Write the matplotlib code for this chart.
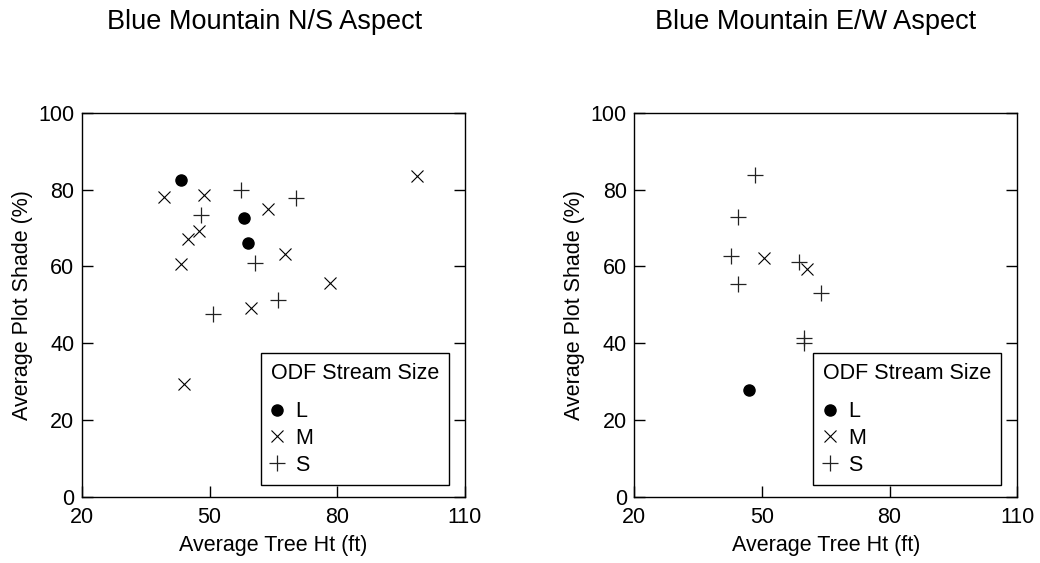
import matplotlib
matplotlib.use("Agg")
import matplotlib.pyplot as plt

plt.rcParams["font.family"] = ["Liberation Sans", "DejaVu Sans"]
plt.rcParams["font.size"] = 15.5

# N/S aspect
ns_L_x = [43.3, 58.0, 59.0]
ns_L_y = [82.6, 72.5, 66.2]
ns_M_x = [39.3, 48.6, 44.9, 47.5, 43.3, 44.0, 63.7, 67.8, 59.7, 78.3, 98.8]
ns_M_y = [78.0, 78.6, 67.0, 69.3, 60.5, 29.4, 74.9, 63.1, 49.2, 55.8, 83.4]
ns_S_x = [57.5, 70.4, 47.9, 60.7, 66.1, 50.8]
ns_S_y = [79.9, 77.7, 73.3, 61.0, 51.2, 47.7]

# E/W aspect
ew_L_x = [46.9]
ew_L_y = [27.9]
ew_M_x = [50.4, 60.5]
ew_M_y = [62.3, 59.3]
ew_S_x = [48.4, 44.3, 42.6, 44.4, 58.8, 63.8, 59.8, 59.8]
ew_S_y = [83.7, 72.9, 62.6, 55.4, 61.2, 53.0, 41.3, 40.0]

titles = ["Blue Mountain N/S Aspect", "Blue Mountain E/W Aspect"]
x_ticks = [20, 50, 80, 110]
y_ticks = [0, 20, 40, 60, 80, 100]

fig = plt.figure(figsize=(10.4, 5.63), dpi=100)
ax1 = fig.add_axes([0.0788, 0.117, 0.368, 0.683])
ax2 = fig.add_axes([0.610, 0.117, 0.368, 0.683])

panels = [
    (ax1, ns_L_x, ns_L_y, ns_M_x, ns_M_y, ns_S_x, ns_S_y),
    (ax2, ew_L_x, ew_L_y, ew_M_x, ew_M_y, ew_S_x, ew_S_y),
]

for ax, lx, ly, mx, my, sx, sy in panels:
    ax.plot(lx, ly, "o", color="black", markersize=8, linestyle="none", label="L")
    ax.plot(mx, my, "x", color="black", markersize=8.5, markeredgewidth=0.8,
            linestyle="none", label="M")
    ax.plot(sx, sy, "+", color="#222222", markersize=11, markeredgewidth=0.9,
            linestyle="none", label="S")
    ax.set_xlim(20, 110)
    ax.set_ylim(0, 100)
    ax.set_xticks(x_ticks)
    ax.set_yticks(y_ticks)
    ax.tick_params(direction="in", length=8, width=1, right=True)
    ax.tick_params(axis="x", pad=7)
    ax.tick_params(axis="y", pad=5.5)
    for s in ax.spines.values():
        s.set_linewidth(1)
    ax.set_xlabel("Average Tree Ht (ft)", labelpad=5)
    ax.set_ylabel("Average Plot Shade (%)", labelpad=4)
    leg = ax.legend(title="ODF Stream Size", loc="lower right",
                    bbox_to_anchor=(0.958, 0.031), borderaxespad=0,
                    frameon=True, fancybox=False,
                    edgecolor="black", framealpha=1, handlelength=0.6,
                    handletextpad=0.55, borderpad=0.45, labelspacing=0.26,
                    fontsize=15.5, title_fontsize=15.5, alignment="left")
    leg.get_frame().set_linewidth(1)
    # extra gap between legend title and entries
    leg._legend_box.sep = 12.5

fig.text(0.254, 1 - 29 / 563, titles[0], ha="center", va="baseline", fontsize=19.5)
fig.text(0.784, 1 - 29 / 563, titles[1], ha="center", va="baseline", fontsize=19.5)

fig.savefig("out.png", dpi=100)
